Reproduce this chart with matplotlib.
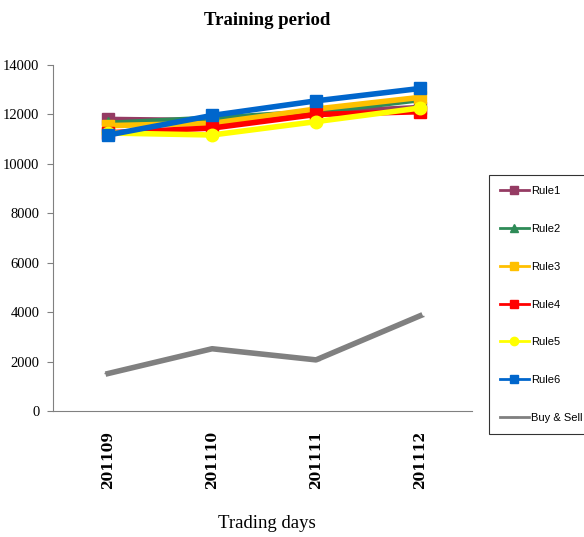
import numpy as np
from matplotlib import pyplot as plt

months = ["201109", "201110", "201111", "201112"]
rule1 = [11800, 11750, 12080, 12280]
rule2 = [11640, 11850, 12100, 12600]
rule3 = [11550, 11640, 12220, 12690]
rule4 = [11260, 11450, 12000, 12110]
rule5 = [11250, 11170, 11710, 12260]
rule6 = [11170, 11960, 12550, 13050]
buy_sell = [1530, 2530, 2080, 3860]

series = [
    ("Rule1", rule1, "#953B63", "s"),
    ("Rule2", rule2, "#2E8B57", "^"),
    ("Rule3", rule3, "#FFC000", "s"),
    ("Rule4", rule4, "#FF0000", "s"),
    ("Rule5", rule5, "#FFFF00", "o"),
    ("Rule6", rule6, "#0066CC", "s"),
]

fig = plt.figure(figsize=(5.84, 5.37), dpi=100)
ax = fig.add_axes([0.091, 0.234, 0.717, 0.645])

x = np.arange(len(months))
for name, vals, color, marker in series:
    ax.plot(x, vals, color=color, marker=marker, markersize=9, linewidth=4, label=name)
ax.plot(x, buy_sell, color="#808080", marker="_", markersize=6, linewidth=4, label="Buy & Sell")

ax.set_xlim(-0.53, 3.5)
ax.set_ylim(0, 14000)
ax.set_yticks(np.arange(0, 14001, 2000))
ax.set_yticklabels([str(v) for v in range(0, 14001, 2000)], family="Liberation Serif", fontsize=10.5)
ax.set_xticks(x)
ax.set_xticklabels(months, rotation=90, family="DejaVu Serif", fontweight="bold", fontsize=10)
ax.tick_params(axis="x", length=0, pad=14)
ax.tick_params(axis="y", length=4, color="#808080", pad=6)

for side in ["top", "right"]:
    ax.spines[side].set_visible(False)
for side in ["left", "bottom"]:
    ax.spines[side].set_color("#808080")

fig.text(0.457, 0.962, "Training period", ha="center", va="center",
         family="Liberation Serif", fontweight="bold", fontsize=13.5)
fig.text(0.457, 0.026, "Trading days", ha="center", va="center",
         family="Liberation Serif", fontsize=13.5)

leg = fig.legend(loc="upper left", bbox_to_anchor=(0.837, 0.674), borderaxespad=0,
                 frameon=True, fancybox=False, edgecolor="black", labelspacing=2.5,
                 handlelength=2.6, handletextpad=0.2, borderpad=1.0,
                 prop={"family": "Liberation Sans", "size": 8})
leg.get_frame().set_linewidth(0.8)
for line in leg.get_lines():
    line.set_linewidth(2)
    line.set_markersize(6)

fig.savefig("out.png", dpi=100)
